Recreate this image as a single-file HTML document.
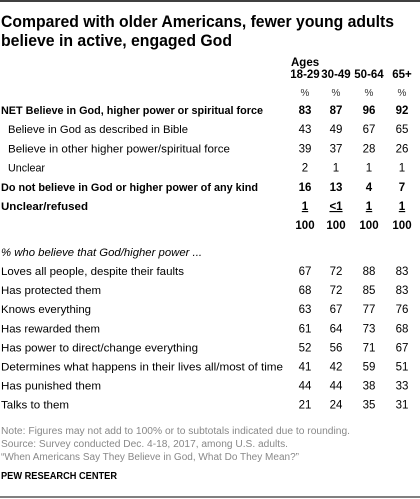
<!DOCTYPE html>
<html><head><meta charset="utf-8"><style>
html,body{margin:0;padding:0;background:#fff;}
svg{display:block;font-family:"Liberation Sans",Arial,sans-serif;}
</style></head><body>
<svg id="t" width="420" height="499" viewBox="0 0 420 499">
<line x1="0" y1="1" x2="420" y2="1" stroke="#000" stroke-width="1.5"/>
<text x="1" y="27" font-size="16.5" font-weight="bold" fill="#000" textLength="393" lengthAdjust="spacingAndGlyphs">Compared with older Americans, fewer young adults</text>
<text x="1" y="46" font-size="16.5" font-weight="bold" fill="#000" textLength="231" lengthAdjust="spacingAndGlyphs">believe in active, engaged God</text>
<text x="291" y="66" font-size="11.5" font-weight="bold">Ages</text>
<line x1="0" y1="497" x2="420" y2="497" stroke="#000" stroke-width="1"/>
</svg>
<script>
const colHeaders=["18-29","30-49","50-64","65+"];
const rowLabels=["NET Believe in God, higher power or spiritual force","Believe in God as described in Bible","Believe in other higher power/spiritual force","Unclear","Do not believe in God or higher power of any kind","Unclear/refused",""];
const rowValues=[["83","87","96","92"],["43","49","67","65"],["39","37","28","26"],["2","1","1","1"],["16","13","4","7"],["1","<1","1","1"],["100","100","100","100"]];
const rowBold=[1,0,0,0,1,1,1];
const attrLabels=["Loves all people,  despite their faults","Has protected them","Knows everything","Has rewarded them","Has power to direct/change everything","Determines what happens in their lives all/most of time","Has punished them","Talks to them"];
const attr1829=[67,68,63,61,52,41,44,21];
const attr3049=[72,72,67,64,56,42,44,24];
const attr5064=[88,85,77,73,71,59,38,35];
const attr65=[83,83,76,68,67,51,33,31];

const svg=document.getElementById('t');
const NS="http://www.w3.org/2000/svg";
const colX=[305,336,369,402];
const topLabelW=[262,180,222,37,257,87,0];
const topIndent=[1,8,8,8,1,1,1];
const attrW=[183,100,90,99,197,282,100,68];
function txt(x,y,s,o){const t=document.createElementNS(NS,'text');t.setAttribute('x',x);t.setAttribute('y',y);t.setAttribute('font-size',o.size||11);t.setAttribute('fill',o.fill||'#000');if(o.bold)t.setAttribute('font-weight','bold');if(o.italic)t.setAttribute('font-style','italic');if(o.anchor)t.setAttribute('text-anchor',o.anchor);if(o.w){t.setAttribute('textLength',o.w);t.setAttribute('lengthAdjust','spacingAndGlyphs');}if(o.u)t.setAttribute('text-decoration','underline');t.textContent=s;svg.appendChild(t);return t;}
colHeaders.forEach((h,i)=>{const t=txt(colX[i],78,h,{bold:1,size:11.5,anchor:'middle'});


const p=txt(colX[i],96,'%',{size:10,anchor:'middle',fill:'#333'});

});
rowLabels.forEach((l,r)=>{const y=114+r*19.2;
if(l){const t=txt(topIndent[r],y,l,{bold:rowBold[r],size:11,w:topLabelW[r]});

}
rowValues[r].forEach((v,c)=>{const t=txt(colX[c],y,v,{bold:rowBold[r],size:11.5,anchor:'middle',u:r===5});

});});
const it=txt(1,256,'% who believe that God/higher power ...',{italic:1,size:11,w:201});


const series=[attr1829,attr3049,attr5064,attr65];
attrLabels.forEach((l,r)=>{const y=275+r*19.1;
const t=txt(1,y,l,{size:11,w:attrW[r]});


series.forEach((s,c)=>{const v=txt(colX[c],y,String(s[r]),{size:11.5,anchor:'middle'});

});});
const notes=[["Note: Figures may not add to 100% or to subtotals indicated due to rounding.",349],["Source: Survey conducted Dec. 4-18, 2017, among U.S. adults.",287],["\u201cWhen Americans Say They Believe in God, What Do They Mean?\u201d",298]];
notes.forEach((n,i)=>{const t=txt(1,434+i*13,n[0],{size:10,fill:'#888',w:n[1]});

});
const pw=txt(1,479,'PEW RESEARCH CENTER',{bold:1,size:10,w:116});


</script>
</body></html>
